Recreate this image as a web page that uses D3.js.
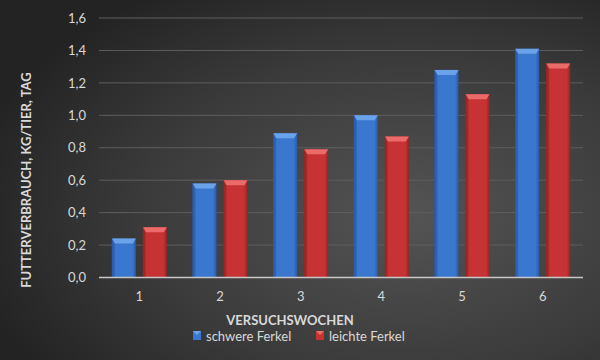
<!DOCTYPE html>
<html><head><meta charset="utf-8">
<script src="https://cdn.jsdelivr.net/npm/d3@7"></script>
<style>body{margin:0;background:#222}svg{display:block}</style>
</head><body>
<script>
const weeks = ["1","2","3","4","5","6"];
const schwere = [0.24,0.58,0.89,1.00,1.28,1.41];
const leichte = [0.31,0.60,0.79,0.87,1.13,1.32];
const seriesNames = ["schwere Ferkel","leichte Ferkel"];
const yTicks = [0,0.2,0.4,0.6,0.8,1.0,1.2,1.4,1.6];

const W=600,H=360;
const svg=d3.select("body").append("svg").attr("width",W).attr("height",H);
const defs=svg.append("defs");
const bg=defs.append("radialGradient").attr("id","bg").attr("cx","0.68").attr("cy","0.6").attr("r","0.75");
bg.append("stop").attr("offset","0").attr("stop-color","#545454");
bg.append("stop").attr("offset","0.6").attr("stop-color","#3a3a3a");
bg.append("stop").attr("offset","1").attr("stop-color","#232323");
svg.append("rect").attr("width",W).attr("height",H).attr("fill","url(#bg)");

const colors=[{base:"#3a77cf",light:"#6aa3ea",dark:"#2a5aa8"},{base:"#c73334",light:"#eb6a6a",dark:"#962424"}];
colors.forEach((c,i)=>{
  const g=defs.append("linearGradient").attr("id","g"+i).attr("x1","0").attr("x2","1").attr("y1","0").attr("y2","0");
  g.append("stop").attr("offset","0").attr("stop-color",c.dark);
  g.append("stop").attr("offset","0.12").attr("stop-color",c.base);
  g.append("stop").attr("offset","0.85").attr("stop-color",c.base);
  g.append("stop").attr("offset","1").attr("stop-color",c.dark);
});

const x=d3.scaleBand().domain(weeks).range([99,583]);
const y=d3.scaleLinear().domain([0,1.6]).range([277.5,18]);
const font="Lato, 'Open Sans', sans-serif";

// grid
svg.append("g").selectAll("line").data(yTicks.filter(d=>d>0)).join("line")
  .attr("x1",99).attr("x2",583).attr("y1",d=>y(d)).attr("y2",d=>y(d))
  .attr("stroke","#5e5e5e").attr("stroke-width",1);

// y axis labels
const yAxis=d3.axisLeft(y).tickValues(yTicks).tickSize(0).tickPadding(0)
  .tickFormat(d=>d3.format(".1f")(d).replace(".",","));
const ya=svg.append("g").attr("transform","translate(86,0)").call(yAxis);
ya.select(".domain").remove();
ya.selectAll("text").attr("fill","#d9d9d9").style("font-family",font).style("font-size","13px");

const bw=24, off=15.5;
const data=[schwere,leichte];
data.forEach((vals,si)=>{
  const c=colors[si];
  const g=svg.append("g");
  weeks.forEach((wk,i)=>{
    const cx=x(wk)+x.bandwidth()/2+(si===0?-off:off);
    const x0=cx-bw/2, x1=cx+bw/2, top=y(vals[i]), bot=y(0);
    g.append("rect").attr("x",x0).attr("y",top).attr("width",bw).attr("height",bot-top).attr("fill","url(#g"+si+")");
    const b=5;
    g.append("path").attr("d",`M${x0},${top}L${x1},${top}L${x1-3},${top+b}L${x0+3},${top+b}Z`).attr("fill",c.light);
    g.append("path").attr("d",`M${x0},${top}L${x0+3},${top+b}L${x0+3},${bot}L${x0},${bot}Z`).attr("fill",c.dark).attr("opacity",0.6);
  });
});

// baseline
svg.append("line").attr("x1",99).attr("x2",583).attr("y1",y(0)).attr("y2",y(0)).attr("stroke","#c8c8c8").attr("stroke-width",1.5);

// x axis labels
const xAxis=d3.axisBottom(x).tickSize(0).tickPadding(0);
const xa=svg.append("g").attr("transform","translate(0,292)").call(xAxis);
xa.select(".domain").remove();
xa.selectAll("text").attr("fill","#d9d9d9").style("font-family",font).style("font-size","13px");

// titles
svg.append("text").attr("x",290).attr("y",325).attr("text-anchor","middle").attr("fill","#d9d9d9")
  .style("font-family",font).style("font-size","13px").style("font-weight","bold").text("VERSUCHSWOCHEN");
svg.append("text").attr("transform","translate(31,180) rotate(-90)").attr("text-anchor","middle").attr("fill","#d9d9d9")
  .style("font-family",font).style("font-size","13px").style("font-weight","bold").text("FUTTERVERBRAUCH, KG/TIER, TAG");

// legend
const leg=svg.append("g");
const lx=[193,316];
seriesNames.forEach((n,i)=>{
  leg.append("rect").attr("x",lx[i]).attr("y",331).attr("width",8).attr("height",9).attr("fill",colors[i].base);
  leg.append("path").attr("d",`M${lx[i]},331L${lx[i]+8},331L${lx[i]+4},335Z`).attr("fill",colors[i].light);
  leg.append("text").attr("x",lx[i]+13).attr("y",341).attr("fill","#d9d9d9")
    .style("font-family",font).style("font-size","13px").text(n);
});
</script>
</body></html>
